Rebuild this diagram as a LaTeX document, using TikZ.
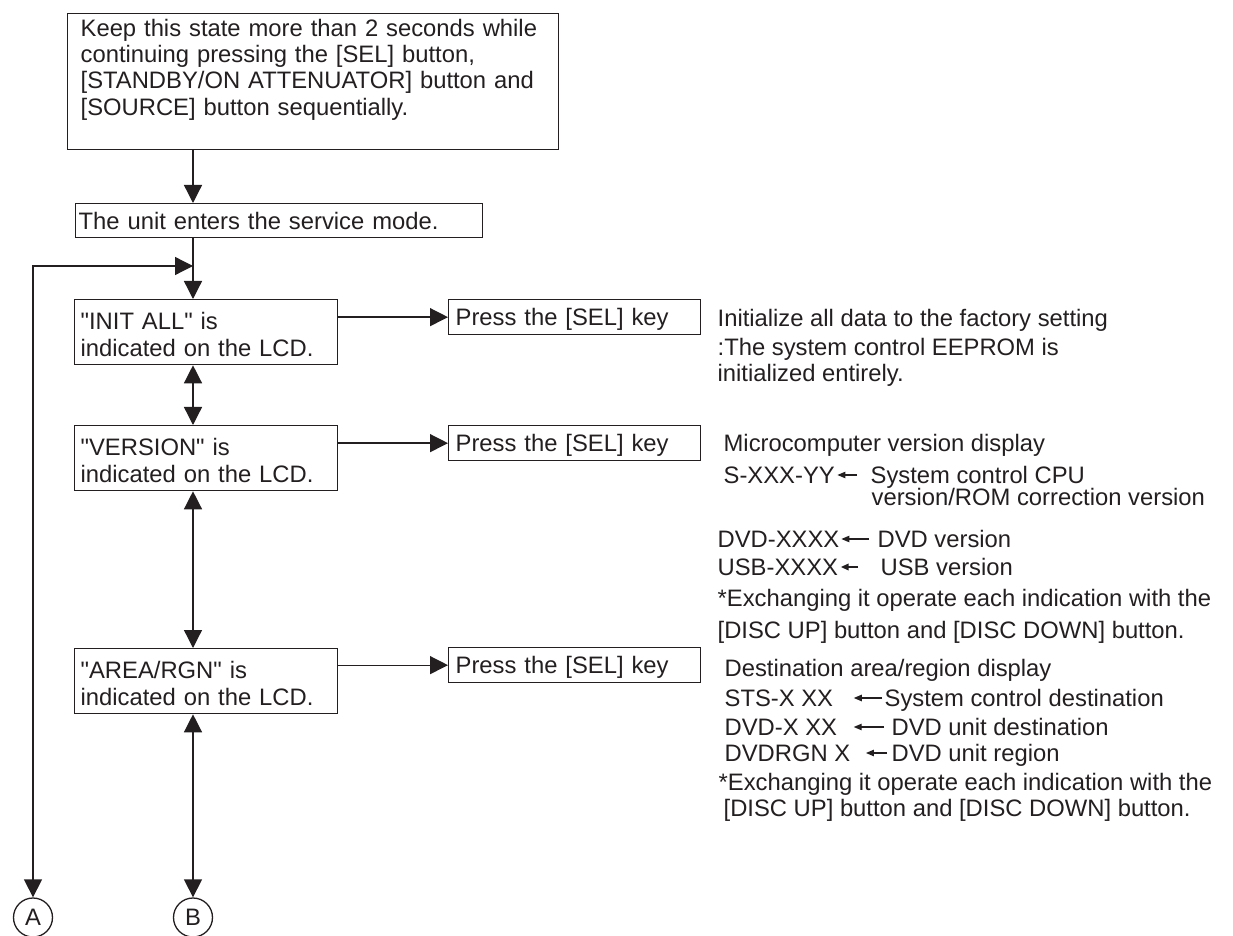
\documentclass[tikz,border=0pt]{standalone}
\usepackage{fontspec}
\newfontfamily\lsans{Liberation Sans}
\usetikzlibrary{arrows.meta, positioning}

\definecolor{ink}{HTML}{231F20}

\begin{document}
\begin{tikzpicture}[x=0.5pt, y=-0.5pt, ink, line width=0.65pt,
    font=\lsans\fontsize{11.9}{13.2}\selectfont,
    box/.style={draw, anchor=north west, align=left, text height=8.5pt},
    lcd/.style={box, minimum width=131.5pt, text width=125.5pt, inner xsep=3pt, inner ysep=6.5pt, text depth=11pt},
    key/.style={box, minimum width=126pt, minimum height=17.5pt, text width=119pt, inner xsep=3.5pt, inner ysep=0pt, text depth=0pt},
    note/.style={anchor=west, inner sep=0pt, text height=8.5pt, text depth=0pt},
    conn/.style={circle, draw, minimum size=19.5pt, inner sep=0pt},
    arr/.style={-{Triangle[length=9pt, width=9pt]}},
    dbl/.style={{Triangle[length=9pt, width=9pt]}-{Triangle[length=9pt, width=9pt]}},
    tip/.style={-{Triangle[length=4pt, width=3.2pt]}, line width=0.6pt}
]
\useasboundingbox (0,0) rectangle (1233,936);
\coordinate (spine) at (193,0);
\coordinate (entry) at (193,266);

\node[box, text width=232.5pt, inner xsep=6.5pt, inner ysep=2.75pt, text depth=54pt] (keep) at (67,13)
  {Keep this state more than 2 seconds while\\continuing pressing the [SEL] button,\\{}[STANDBY/ON ATTENUATOR] button and\\{}[SOURCE] button sequentially.};
\node[box, minimum width=203.5pt, text width=200.5pt, inner xsep=1.5pt, inner ysep=0pt,
  minimum height=17pt, text depth=0pt] (mode) at (75,203) {The unit enters the service mode.};

\node[lcd] (init) at (74,299) {"INIT ALL" is\\indicated on the LCD.};
\node[lcd] (version) at (74,425) {"VERSION" is\\indicated on the LCD.};
\node[lcd] (area) at (74,648) {"AREA/RGN" is\\indicated on the LCD.};

\node[key] (sel1) at (448,299) {Press the [SEL] key};
\node[key] (sel2) at (448,425) {Press the [SEL] key};
\node[key] (sel3) at (448,647) {Press the [SEL] key};

\node[conn] (A) at (33,917.5) {A};
\node[conn] (B) at (193,917.5) {B};

\draw[arr] (keep.south -| spine) -- (mode.north -| spine);
\draw[arr] (mode.south -| spine) -- (init.north -| spine);
\draw[dbl] (A.north) |- (entry);
\draw[dbl] (init.south -| spine) -- (version.north -| spine);
\draw[dbl] (version.south -| spine) -- (area.north -| spine);
\draw[dbl] (area.south -| spine) -- (B.north);
\draw[arr] (sel1.west -| init.east) -- (sel1.west);
\draw[arr] (sel2.west -| version.east) -- (sel2.west);
\draw[arr] (sel3.west -| area.east) -- (sel3.west);

\node[note] (ini1) at (717,318) {Initialize all data to the factory setting};
\node[note] (ini2) at (717,347) {:The system control EEPROM is};
\node[note] (ini3) at (717,373) {initialized entirely.};

\node[note] (ver1) at (723,443) {Microcomputer version display};
\node[note] (sxx) at (723,475) {S-XXX-YY};
\node[note] (sxxd) at (870,475) {System control CPU};
\node[note] (sxxd2) at (871,497) {version/ROM correction version};
\node[note] (dvdv) at (717,539) {DVD-XXXX};
\node[note] (dvdvd) at (877,539) {DVD version};
\node[note] (usbv) at (717,567) {USB-XXXX};
\node[note] (usbvd) at (880,567) {USB version};
\node[note] (ver6) at (717,598) {*Exchanging it operate each indication with the};
\node[note] (ver7) at (717,630) {[DISC UP] button and [DISC DOWN] button.};

\node[note] (are1) at (724,668) {Destination area/region display};
\node[note] (sts) at (724,698) {STS-X XX};
\node[note] (stsd) at (884,698) {System control destination};
\node[note] (dvdx) at (724,727) {DVD-X XX};
\node[note] (dvdxd) at (891,727) {DVD unit destination};
\node[note] (rgn) at (724,753) {DVDRGN X};
\node[note] (rgnd) at (891,753) {DVD unit region};
\node[note] (are6) at (718,782) {*Exchanging it operate each indication with the};
\node[note] (are7) at (723,808) {[DISC UP] button and [DISC DOWN] button.};

\draw[tip, shorten >=1pt, shorten <=6.5pt] (sxxd.west) -- (sxx.east);
\draw[tip, shorten >=0.7pt, shorten <=4pt] (dvdvd.west) -- (dvdv.east);
\draw[tip, line width=1.3pt, shorten >=1pt, shorten <=11pt] (usbvd.west) -- (usbv.east);
\draw[tip, shorten >=10pt, shorten <=1pt] (stsd.west) -- (sts.east);
\draw[tip, shorten >=8pt, shorten <=3.5pt] (dvdxd.west) -- (dvdx.east);
\draw[tip, shorten >=7.5pt, shorten <=2pt] (rgnd.west) -- (rgn.east);
\end{tikzpicture}
\end{document}
